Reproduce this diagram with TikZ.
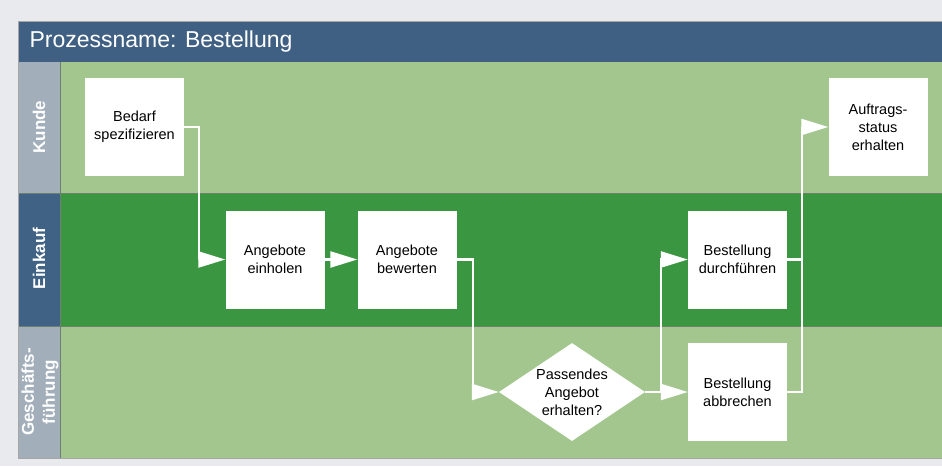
\documentclass[tikz,border=0pt]{standalone}
\usepackage{fontspec}
\setmainfont{Liberation Sans}
\usetikzlibrary{arrows.meta,shapes.geometric}
\definecolor{bgcol}{HTML}{E8EAED}
\definecolor{titlecol}{HTML}{3F6083}
\definecolor{labgray}{HTML}{A2AFBB}
\definecolor{labblue}{HTML}{3F6285}
\definecolor{lightgreen}{HTML}{A3C68F}
\definecolor{darkgreen}{HTML}{3A9641}
\definecolor{sepcol}{HTML}{6E8070}
\tikzset{
  stepbox/.style={rectangle, fill=white, minimum width=99pt, minimum height=98pt,
    inner sep=0pt, align=center, font=\fontsize{14.5}{18}\selectfont},
  decision/.style={diamond, fill=white, minimum width=146pt, minimum height=98pt,
    aspect=1.49, inner sep=0pt, align=center, font=\fontsize{14.5}{18}\selectfont},
  conn/.style={draw=white, line width=2.4pt, line join=miter,
    -{Triangle[length=27pt,width=16pt]}},
  plain/.style={draw=white, line width=2.4pt, line join=miter},
  lanelabel/.style={rotate=90, text=white, align=center,
    font=\fontsize{17}{21}\selectfont\bfseries},
}
\begin{document}
\begin{tikzpicture}[x=1pt,y=-1pt]
\useasboundingbox (0,0) rectangle (942,466);
\fill[bgcol] (0,0) rectangle (942,466);
% title bar
\fill[titlecol] (18,21) rectangle (942,62);
\node[anchor=west, text=white, font=\fontsize{23}{26}\selectfont] (title) at (26,42) {Prozessname: Bestellung};
% lanes
\fill[labgray] (18,62) rectangle (60,193);
\fill[lightgreen] (60,62) rectangle (942,193);
\fill[labblue] (18,193) rectangle (60,326);
\fill[darkgreen] (60,193) rectangle (942,326);
\fill[labgray] (18,326) rectangle (60,458);
\fill[lightgreen] (60,326) rectangle (942,458);
\draw[sepcol, line width=0.6pt] (18,193) -- (942,193);
\draw[sepcol, line width=0.6pt] (18,326) -- (942,326);
\draw[sepcol, line width=0.5pt] (60,62) -- (60,458);
\draw[black!35, line width=0.6pt] (942,458) -- (18,458) -- (18,21) -- (942,21);
\node[lanelabel] (lk) at (39,127) {Kunde};
\node[lanelabel] (le) at (39,258.5) {Einkauf};
\node[lanelabel] (lg) at (40,392) {Geschäfts-\\führung};
% steps
\node[stepbox] (bedarf) at (134.5,127) {Bedarf\\spezifizieren};
\node[stepbox] (auftrag) at (878,127) {Auftrags-\\status\\erhalten};
\node[stepbox] (einholen) at (275,259.5) {Angebote\\einholen};
\node[stepbox] (bewerten) at (407,259.5) {Angebote\\bewerten};
\node[stepbox] (durch) at (737.5,259.5) {Bestellung\\durchführen};
\node[stepbox] (abbr) at (737.5,392) {Bestellung\\abbrechen};
\node[decision] (dia) at (572,392) {Passendes\\Angebot\\erhalten?};
\coordinate (split) at (661,392);
\coordinate (merge) at (802,259.5);
% connectors
\draw[conn] (bedarf.east) -- ++(15,0) |- (einholen.west);
\draw[conn] (einholen) -- (bewerten);
\draw[conn] (bewerten.east) -- ++(16,0) |- (dia.west);
\draw[conn] (dia.east) -- (abbr.west);
\draw[conn] (split) |- (durch.west);
\draw[plain] (abbr.east) -| (merge);
\draw[conn] (durch.east) -- (merge) |- (auftrag.west);
\end{tikzpicture}
\end{document}
